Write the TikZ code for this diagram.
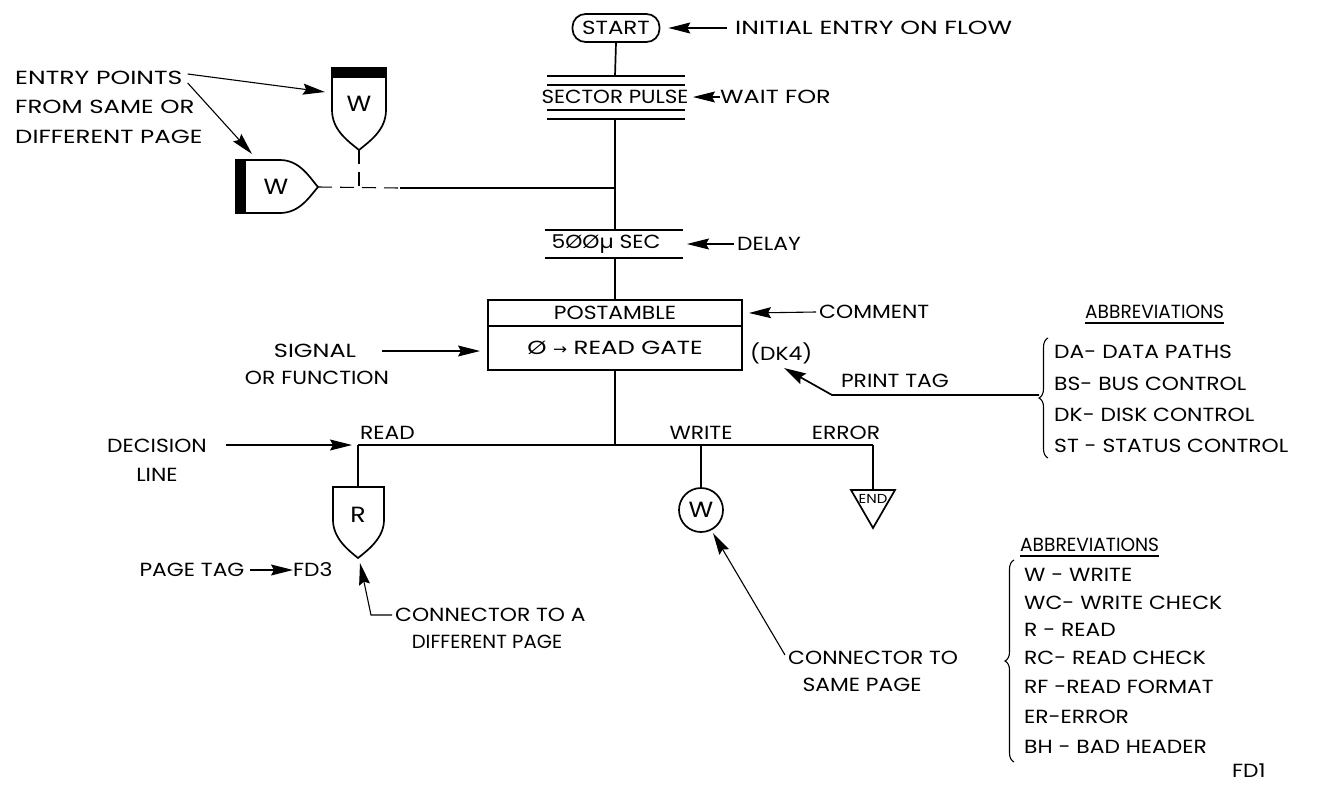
\documentclass[tikz,border=0pt]{standalone}
\usepackage{graphicx}
\usepackage{fontspec}
\setmainfont[FakeStretch=1.15]{Poppins}
\newfontfamily\sym{DejaVu Sans}
\usetikzlibrary{arrows.meta,decorations.pathreplacing,calc}
\newcommand\hs[2]{\scalebox{#1}[1]{#2}}
\tikzset{
  ln/.style={line width=1.7pt},
  thinln/.style={line width=1.1pt},
  arr/.style={thinln,-{Stealth[length=22pt,width=11pt,inset=3pt]}},
  txt/.style={inner sep=0pt,font=\fontsize{19}{22}\selectfont},
  bigtxt/.style={inner sep=0pt,font=\fontsize{22}{24}\selectfont},
  brc/.style={thinln,decorate,decoration={brace,amplitude=9pt,aspect=0.5}},
  dsh/.style={thinln,dash pattern=on 14pt off 8pt}
}
\begin{document}
\begin{tikzpicture}[x=1pt,y=-1pt]
\useasboundingbox (0,0) rectangle (1330,785);
\clip (0,0) rectangle (1330,785);

% START
\node[draw,ln,rounded corners=13pt,minimum width=87pt,minimum height=28pt,txt] (start) at (616,28) {\hs{1.05}{START}};
\node[txt,anchor=west] (initial) at (735,28) {\hs{1.15}{INITIAL ENTRY ON FLOW}};
\draw[arr] (initial.west) ++(-8,0) coordinate (initT) -- ([xshift=8pt]start.east);

% SECTOR PULSE
\foreach \yy in {76,85,110,119} \draw[ln] (547,\yy) -- (685,\yy);
\coordinate (spT) at (615,76);
\coordinate (spB) at (615,119);
\node[txt] (sp) at (615,97) {\hs{0.98}{SECTOR PULSE}};
\node[txt,anchor=west] (wait) at (720,97) {\hs{1.1}{WAIT FOR}};
\draw[arr] (wait.west) -- (693,97);
\draw[ln] (start.south) -- (spT);

% entry points
\node[txt,anchor=west] (ep1) at (15,78) {\hs{1.15}{ENTRY POINTS}};
\node[txt,anchor=west] (ep2) at (15,107) {\hs{1.12}{FROM SAME OR}};
\node[txt,anchor=west] (ep3) at (15,137) {\hs{1.12}{DIFFERENT PAGE}};

% top W shield
\fill (332,68) rectangle (386,78);
\draw[ln] (332,68) -- (386,68) -- (386,110) .. controls (386,130) and (370,141) .. (359,150)
   .. controls (348,141) and (332,130) .. (332,110) -- cycle;
\node[bigtxt] (wtop) at (359,104) {W};
\coordinate (wtopP) at (359,150);
\coordinate (wtopL) at (325,92);

% left W
\fill (236,160) rectangle (246,213);
\draw[ln] (236,160) -- (280,160) .. controls (300,160) and (310,178) .. (318,187)
   .. controls (310,196) and (300,213) .. (280,213) -- (236,213) -- cycle;
\node[bigtxt] (wleft) at (276,187) {W};
\coordinate (wleftP) at (318,187);
\coordinate (wleftT) at (252,154);

\draw[arr] (ep1.east) ++(5,-4) -- (wtopL);
\draw[arr] (ep1.east) ++(5,5) -- (wleftT);

\coordinate (dashend) at (400,188);
\coordinate (mainj) at (615,188);
\coordinate (wtopj) at (359,188);
\draw[dsh] (wleftP) -- (dashend);
\draw[dsh] (wtopP) -- (wtopj);
\draw[thinln] (dashend) -- (mainj);

% 500 usec
\draw[ln] (545,230) -- (683,230);
\draw[ln] (545,258) -- (683,258);
\coordinate (dT) at (615,230);
\coordinate (dB) at (615,258);
\node[txt] (delay) at (606,244) {5ØØµ SEC};
\node[txt,anchor=west] (delaylbl) at (737,244) {DELAY};
\draw[arr] (delaylbl.west) ++(-3,0) -- (687,244);
\draw[ln] (spB) -- (dT);

% box
\node[draw,ln,outer sep=0pt,minimum width=254pt,minimum height=26pt,txt] (post) at (615,313) {POSTAMBLE};
\node[draw,ln,outer sep=0pt,minimum width=254pt,minimum height=44pt,txt,anchor=north] (gate) at (post.south) {\hs{1.12}{Ø {\sym\fontsize{15}{17}\selectfont →} READ GATE}};
\draw[ln] (dB) -- (post.north);
\node[txt,anchor=west] (comment) at (819,312) {COMMENT};
\draw[arr] (comment.west) ++(-3,0) -- ([xshift=7pt]post.east);
\node[txt,anchor=west] (dk4) at (750,353) {(DK4)};

\node[txt] (signal) at (315,351) {\hs{1.1}{SIGNAL}};
\node[txt] (orfun) at (317,378) {OR FUNCTION};
\draw[arr] (382,351) coordinate (sigT) -- ([xshift=-8pt]gate.west |- sigT);

% print tag
\node[txt] (ptag) at (895,381) {PRINT TAG};
\draw[brc] (1048,458) -- (1048,338);
\coordinate (b1tip) at (1039,395);
\coordinate (ptbend) at (832,395);
\coordinate (ptip) at (784,368);
\draw[ln,-{Stealth[length=22pt,width=12pt,inset=3pt]}] (b1tip) -- (ptbend) -- (ptip);

\node[txt,anchor=west] (ab1) at (1085,312) {\hs{0.85}{ABBREVIATIONS}};
\draw[thinln] (ab1.south west) ++(0,4) -- ($(ab1.south east)+(0,4)$);
\node[txt,anchor=west] (da) at (1054,352) {DA- DATA PATHS};
\node[txt,anchor=west] (bs) at (1054,384) {BS- BUS CONTROL};
\node[txt,anchor=west] (dk) at (1054,415) {DK- DISK CONTROL};
\node[txt,anchor=west] (st) at (1054,446) {ST - STATUS CONTROL};

% decision line
\coordinate (junc) at (615,445);
\coordinate (rT) at (358,445);
\coordinate (wT) at (701,445);
\coordinate (eT) at (873,445);
\draw[ln] (gate.south) -- (junc);
\draw[ln] (rT) -- (eT);
\node[txt,anchor=south west] (readl) at (360,440) {READ};
\node[txt,anchor=south] (writel) at (701,440) {WRITE};
\node[txt,anchor=south] (errl) at (846,440) {ERROR};
\node[txt] (dec) at (157,446) {DECISION};
\node[txt] (line) at (157,475) {LINE};
\draw[arr] (226,445) -- ([xshift=-6pt]rT);

% R shield
\draw[ln] (333,487) -- (384,487) -- (384,520) .. controls (384,538) and (368,550) .. (358,558)
   .. controls (348,550) and (333,538) .. (333,520) -- cycle;
\node[bigtxt] (rs) at (358,515) {R};
\coordinate (rTop) at (358,487);
\coordinate (rP) at (360,563);
\draw[ln] (rT) -- (rTop);

% W circle
\node[draw,ln,circle,minimum size=44pt,inner sep=0pt,bigtxt] (wc) at (701,510) {W};
\draw[ln] (wT) -- (wc.north);

% END triangle
\draw[ln] (851,490) -- (895,490) -- (873,528) -- cycle;
\node[inner sep=0pt,font=\fontsize{13}{14}\selectfont] (endt) at (873,499) {END};
\coordinate (eTop) at (873,490);
\draw[ln] (eT) -- (eTop);

% page tag
\node[txt] (ptg) at (192,570) {PAGE TAG};
\node[txt,anchor=west] (fd3) at (293,570) {FD3};
\draw[arr] (250,570) -- (fd3.west);

% connector to different page
\node[txt,anchor=west] (cta) at (395,615) {CONNECTOR TO A};
\node[txt] (dp) at (487,642) {\hs{0.9}{DIFFERENT PAGE}};
\coordinate (ctaB) at (371,615);
\draw[arr] (cta.west) ++(-3,0) -- (ctaB) -- (rP);

% connector to same page
\node[txt,anchor=west] (cts) at (788,658) {CONNECTOR TO};
\node[txt] (sp2) at (862,685) {SAME PAGE};
\coordinate (ctsT) at (785,655);
\draw[arr] (ctsT) -- (713,533);

% second abbreviations
\node[txt,anchor=west] (ab2) at (1020,545) {\hs{0.85}{ABBREVIATIONS}};
\draw[thinln] (ab2.south west) ++(0,4) -- ($(ab2.south east)+(0,4)$);
\draw[brc] (1014,762) -- (1014,560);
\node[txt,anchor=west] (a1) at (1024,575) {W - WRITE};
\node[txt,anchor=west] (a2) at (1024,603) {WC- WRITE CHECK};
\node[txt,anchor=west] (a3) at (1024,630) {R - READ};
\node[txt,anchor=west] (a4) at (1024,658) {RC- READ CHECK};
\node[txt,anchor=west] (a5) at (1024,687) {RF -READ FORMAT};
\node[txt,anchor=west] (a6) at (1024,717) {ER-ERROR};
\node[txt,anchor=west] (a7) at (1024,747) {BH - BAD HEADER};

\node[txt,anchor=north west] (fd1) at (1232,764) {FD1};
\end{tikzpicture}
\end{document}
